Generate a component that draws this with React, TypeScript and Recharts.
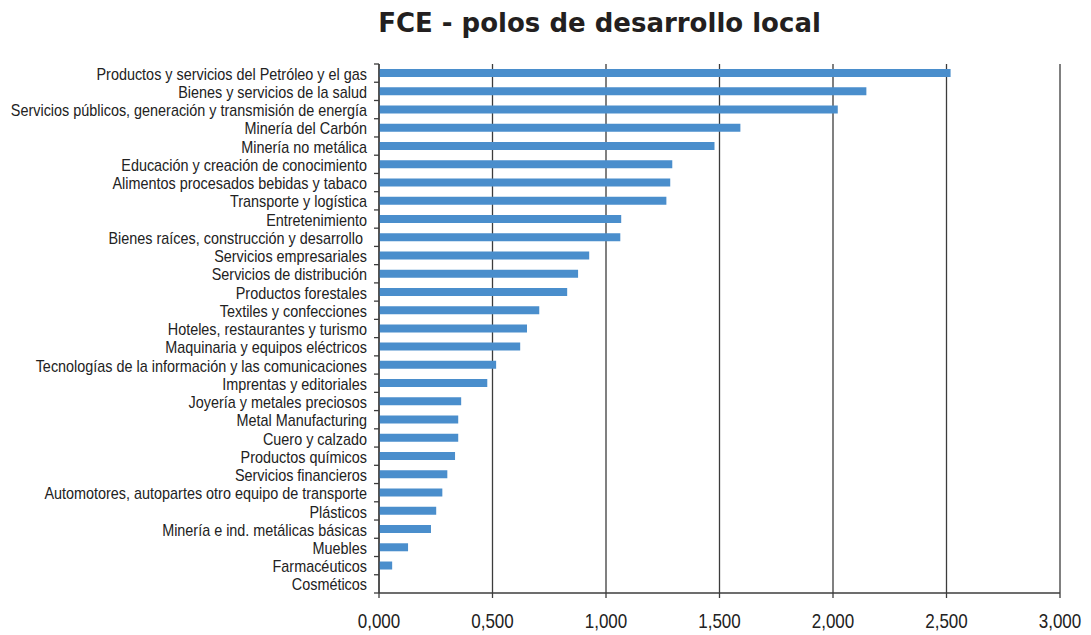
import React from "react";
import { BarChart, Bar, XAxis, YAxis, CartesianGrid } from "recharts";

const categories = [
  "Productos y servicios del Petróleo y el gas",
  "Bienes y servicios de la salud",
  "Servicios públicos, generación y transmisión de energía",
  "Minería del Carbón",
  "Minería no metálica",
  "Educación y creación de conocimiento",
  "Alimentos procesados bebidas y tabaco",
  "Transporte y logística",
  "Entretenimiento",
  "Bienes raíces, construcción y desarrollo ",
  "Servicios empresariales",
  "Servicios de distribución",
  "Productos forestales",
  "Textiles y confecciones",
  "Hoteles, restaurantes y turismo",
  "Maquinaria y equipos eléctricos",
  "Tecnologías de la información y las comunicaciones",
  "Imprentas y editoriales",
  "Joyería y metales preciosos",
  "Metal Manufacturing",
  "Cuero y calzado",
  "Productos químicos",
  "Servicios financieros",
  "Automotores, autopartes otro equipo de transporte",
  "Plásticos",
  "Minería e ind. metálicas básicas",
  "Muebles",
  "Farmacéuticos",
  "Cosméticos",
];

const values = [
  2.518, 2.147, 2.021, 1.592, 1.478, 1.292, 1.283, 1.266, 1.067, 1.063,
  0.926, 0.877, 0.829, 0.706, 0.652, 0.622, 0.516, 0.477, 0.362, 0.349,
  0.349, 0.335, 0.301, 0.279, 0.252, 0.229, 0.128, 0.058, 0,
];

const xTicks = [0, 0.5, 1, 1.5, 2, 2.5, 3];

const data = categories.map((name, i) => ({ name, value: values[i] }));

const W = 1091;
const H = 635;
const TOP = 64;
const BOTTOM = 42;
const BAND = (H - TOP - BOTTOM) / categories.length;
const AXIS = "#3c3c3c";
const LABEL_FONT = "'Liberation Sans', Arial, sans-serif";
const SQUEEZE = 0.9; // labels in the original are a narrow (Calibri-like) face

const fmt = (v: number) => v.toFixed(3).replace(".", ",");

const CategoryTick = (props: any) => {
  const { x, y, payload, index } = props;
  const half = BAND / 2;
  return (
    <g>
      <line x1={x - 5} x2={x} y1={y - half} y2={y - half} stroke={AXIS} strokeWidth={1.3} />
      {index === categories.length - 1 && (
        <line x1={x - 5} x2={x} y1={y + half} y2={y + half} stroke={AXIS} strokeWidth={1.3} />
      )}
      <g transform={`translate(${x - 12},${y + 1}) scale(${SQUEEZE},1)`}>
        <text
          x={0}
          y={0}
          dy="0.35em"
          textAnchor="end"
          fill="#222"
          fontSize={16}
          fontFamily={LABEL_FONT}
          style={{ whiteSpace: "pre" }}
        >
          {payload.value}
        </text>
      </g>
    </g>
  );
};

const ValueTick = (props: any) => {
  const { x, y, payload } = props;
  return (
    <g transform={`translate(${x},${y}) scale(0.85,1)`}>
      <text x={0} y={0} dy="0.71em" textAnchor="middle" fill="#222" fontSize={20} fontFamily={LABEL_FONT}>
        {fmt(payload.value)}
      </text>
    </g>
  );
};

export default function App() {
  return (
    <div style={{ position: "absolute", left: 0, top: 0, width: W, height: H, background: "#fff" }}>
      <div
        style={{
          position: "absolute",
          left: 350,
          top: 8,
          width: 499,
          textAlign: "center",
          fontFamily: "'DejaVu Sans', Verdana, sans-serif",
          fontWeight: "bold",
          fontSize: 26,
          lineHeight: "30px",
          color: "#231f20",
        }}
      >
        FCE - polos de desarrollo local
      </div>
      <BarChart
        width={W}
        height={H}
        data={data}
        layout="vertical"
        margin={{ top: TOP, right: 31, bottom: 4, left: 0 }}
        barCategoryGap={0}
      >
        <CartesianGrid horizontal={false} stroke={AXIS} strokeWidth={1.3} />
        <XAxis
          type="number"
          domain={[0, 3]}
          ticks={xTicks}
          interval={0}
          height={BOTTOM - 4}
          axisLine={{ stroke: AXIS, strokeWidth: 1.3 }}
          tickLine={{ stroke: AXIS, strokeWidth: 1.3 }}
          tickSize={5}
          tickMargin={16}
          tick={<ValueTick />}
        />
        <YAxis
          type="category"
          dataKey="name"
          width={379}
          interval={0}
          axisLine={{ stroke: AXIS, strokeWidth: 1.3 }}
          tickLine={false}
          tickSize={0}
          tickMargin={0}
          tick={<CategoryTick />}
        />
        <Bar dataKey="value" fill="#4a8ecc" barSize={8} isAnimationActive={false} />
      </BarChart>
    </div>
  );
}
